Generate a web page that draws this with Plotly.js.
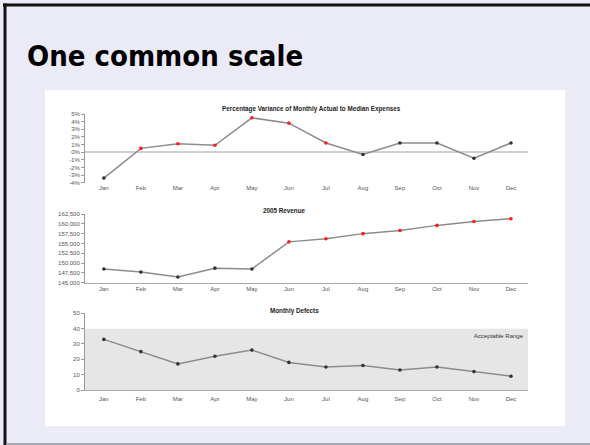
<!DOCTYPE html>
<html><head><meta charset="utf-8">
<script src="https://cdn.plot.ly/plotly-3.0.1.min.js"></script>
<style>html,body{margin:0;padding:0;background:#ebebf7;}#chart{width:590px;height:445px;}</style>
</head><body><div id="chart"></div>
<script>
// ---------- data ----------
const slideTitle = 'One common scale';
const months = ['Jan','Feb','Mar','Apr','May','Jun','Jul','Aug','Sep','Oct','Nov','Dec'];

const varianceTitle = 'Percentage Variance of Monthly Actual to Median Expenses';
const variancePct = [-3.4, 0.5, 1.1, 0.9, 4.5, 3.8, 1.2, -0.3, 1.2, 1.2, -0.8, 1.2];
const varianceFlag = [0,1,1,1,1,1,1,0,0,0,0,0];
const varianceTickVals = [5,4,3,2,1,0,-1,-2,-3,-4];
const varianceTickText = ['5%','4%','3%','2%','1%','0%','-1%','-2%','-3%','-4%'];

const revenueTitle = '2005 Revenue';
const revenue = [148500, 147700, 146450, 148700, 148500, 155400, 156200, 157500, 158300, 159600, 160600, 161300];
const revenueFlag = [0,0,0,0,0,1,1,1,1,1,1,1];
const revenueTickVals = [162500,160000,157500,155000,152500,150000,147500,145000];
const revenueTickText = ['162,500','160,000','157,500','155,000','152,500','150,000','147,500','145,000'];

const defectsTitle = 'Monthly Defects';
const defects = [33, 25, 17, 22, 26, 18, 15, 16, 13, 15, 12, 9];
const defectTickVals = [0,10,20,30,40,50];
const defectTickText = ['0','10','20','30','40','50'];
const acceptableRange = [0, 40];
const acceptableLabel = 'Acceptable Range';

// ---------- helpers ----------
const W = 590, H = 445;
const px = x => x / W;
const py = y => 1 - y / H;
const RED = '#ff1a1a', DARK = '#333333', LINE = '#8c8c8c';
const colorsFrom = flags => flags.map(f => f ? RED : DARK);

const xDomain = [px(85), px(528)];
const xRange = [-0.51, 11.46];
const tickFont = {family: 'Liberation Sans, Arial, sans-serif', size: 6, color: '#555'};
const titleFont = {family: 'Liberation Sans, Arial, sans-serif', size: 6.3, color: '#222', weight: 'bold'};

function lineTrace(y, colors, xa, ya) {
  return {
    x: months, y: y, xaxis: xa, yaxis: ya, type: 'scatter', mode: 'lines+markers',
    line: {color: LINE, width: 1.5},
    marker: {color: colors, size: 3.6},
    hoverinfo: 'skip', showlegend: false, cliponaxis: false
  };
}

const data = [
  lineTrace(variancePct, colorsFrom(varianceFlag), 'x', 'y'),
  lineTrace(revenue, colorsFrom(revenueFlag), 'x2', 'y2'),
  lineTrace(defects, defects.map(() => DARK), 'x3', 'y3')
];

function xAxis(anchor, showline) {
  return {
    domain: xDomain, range: xRange, anchor: anchor, type: 'category',
    showgrid: false, zeroline: false, showline: showline, linecolor: '#aaaaaa', linewidth: 1,
    ticks: '', tickfont: tickFont, fixedrange: true
  };
}
function yAxis(anchor, dom, range, vals, text, extra) {
  return Object.assign({
    domain: dom, range: range, anchor: anchor,
    showgrid: false, zeroline: false, showline: true, linecolor: '#999999', linewidth: 1,
    ticks: 'outside', ticklen: 3, tickcolor: '#999999', tickwidth: 1,
    tickvals: vals, ticktext: text, tickfont: tickFont, fixedrange: true
  }, extra || {});
}

const layout = {
  width: W, height: H,
  margin: {l: 0, r: 0, t: 0, b: 0},
  paper_bgcolor: '#ebebf7', plot_bgcolor: 'rgba(0,0,0,0)',
  showlegend: false,
  xaxis: xAxis('y', false),
  yaxis: yAxis('x', [py(182.7), py(114)], [-4, 5], varianceTickVals, varianceTickText,
    {zeroline: true, zerolinecolor: '#d0d0d0', zerolinewidth: 1.5}),
  xaxis2: xAxis('y2', true),
  yaxis2: yAxis('x2', [py(282.7), py(214)], [145000, 162500], revenueTickVals, revenueTickText),
  xaxis3: Object.assign(xAxis('y3', true), {ticklabelstandoff: 3}),
  yaxis3: yAxis('x3', [py(390), py(313.3)], [0, 50], defectTickVals, defectTickText),
  shapes: [
    // white panel
    {type: 'rect', xref: 'paper', yref: 'paper', x0: px(45), x1: px(565), y0: py(426), y1: py(90),
     fillcolor: '#ffffff', line: {width: 0}, layer: 'below'},
    // slide borders
    {type: 'rect', xref: 'paper', yref: 'paper', x0: px(3), x1: px(590), y0: py(6.5), y1: py(3.5),
     fillcolor: '#111111', line: {width: 0}},
    {type: 'rect', xref: 'paper', yref: 'paper', x0: px(3.5), x1: px(6.5), y0: py(445), y1: py(3.5),
     fillcolor: '#111111', line: {width: 0}},
    {type: 'rect', xref: 'paper', yref: 'paper', x0: px(6.5), x1: px(590), y0: py(445), y1: py(443),
     fillcolor: '#a8a8b0', line: {width: 0}},
    // acceptable range band
    {type: 'rect', xref: 'x3 domain', yref: 'y3', x0: 0, x1: 1, y0: acceptableRange[0], y1: acceptableRange[1],
     fillcolor: '#e6e6e6', line: {width: 0}, layer: 'below'}
  ],
  annotations: [
    {xref: 'paper', yref: 'paper', x: px(25), y: py(56), xanchor: 'left', yanchor: 'middle',
     text: slideTitle, showarrow: false,
     font: {family: 'DejaVu Sans Condensed, DejaVu Sans, sans-serif', size: 29, weight: 'bold', color: '#000'}},
    {xref: 'paper', yref: 'paper', x: px(311), y: py(108.5), xanchor: 'center', yanchor: 'middle',
     text: varianceTitle, showarrow: false, font: titleFont},
    {xref: 'paper', yref: 'paper', x: px(284), y: py(210.7), xanchor: 'center', yanchor: 'middle',
     text: revenueTitle, showarrow: false, font: titleFont},
    {xref: 'paper', yref: 'paper', x: px(294), y: py(310.7), xanchor: 'center', yanchor: 'middle',
     text: defectsTitle, showarrow: false, font: titleFont},
    {xref: 'x3 domain', yref: 'y3', x: 0.995, y: 38.5, xanchor: 'right', yanchor: 'top',
     text: acceptableLabel, showarrow: false,
     font: {family: 'Liberation Sans, Arial, sans-serif', size: 6, color: '#333'}}
  ]
};

Plotly.newPlot('chart', data, layout, {staticPlot: true, displayModeBar: false});
</script>
</body></html>
